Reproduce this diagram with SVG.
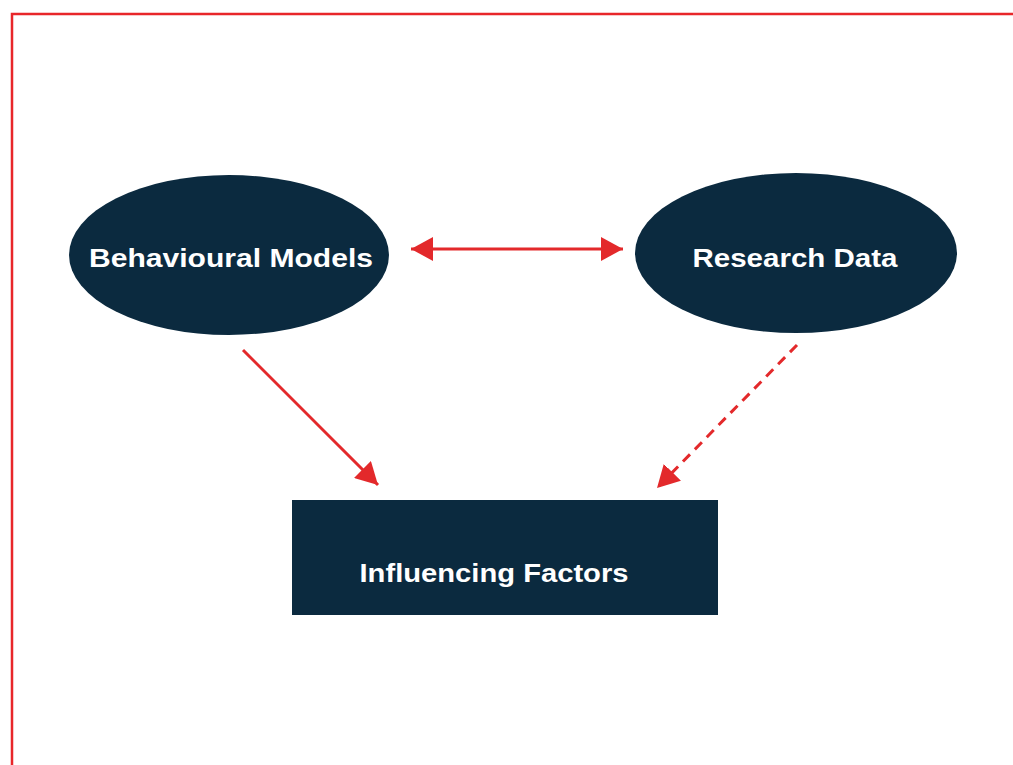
<svg xmlns="http://www.w3.org/2000/svg" width="1013" height="765" viewBox="0 0 1013 765">
<defs>
<style>
.node{fill:#0b2a3f}
.lbl{fill:#ffffff;font-family:"Liberation Sans",Arial,sans-serif;font-weight:bold;font-size:26px;text-anchor:middle}
.con{stroke:#e3292b;stroke-width:3;fill:none}
.dash{stroke-dasharray:10 7}
</style>
<marker id="ah" viewBox="0 0 10 10" refX="10" refY="5" markerWidth="8" markerHeight="8" markerUnits="userSpaceOnUse" orient="auto-start-reverse">
<path d="M0,0 L10,5 L0,10 Z" fill="#e3292b"/>
</marker>
<marker id="ah2" viewBox="0 0 22 24" refX="22" refY="12" markerWidth="22" markerHeight="24" markerUnits="userSpaceOnUse" orient="auto-start-reverse">
<path d="M0,0 L22,12 L0,24 Z" fill="#e3292b"/>
</marker>
</defs>
<rect width="1013" height="765" fill="#ffffff"/>
<path d="M12,765 L12,14 L1013,14" fill="none" stroke="#e8262a" stroke-width="2.5"/>
<g id="connectors">
<line class="con" x1="411" y1="249" x2="623" y2="249" marker-start="url(#ah2)" marker-end="url(#ah2)"/>
<line class="con" x1="243" y1="350" x2="378" y2="485" marker-end="url(#ah2)"/>
<line class="con dash" x1="797" y1="345" x2="657" y2="488" marker-end="url(#ah2)"/>
</g>
<g id="behavioural-models">
<ellipse class="node" cx="229" cy="255" rx="160" ry="80"/>
<text class="lbl" x="231" y="267" textLength="284" lengthAdjust="spacingAndGlyphs">Behavioural Models</text>
</g>
<g id="research-data">
<ellipse class="node" cx="796" cy="253" rx="161" ry="80"/>
<text class="lbl" x="795" y="267" textLength="205" lengthAdjust="spacingAndGlyphs">Research Data</text>
</g>
<g id="influencing-factors">
<rect class="node" x="292" y="500" width="426" height="115"/>
<text class="lbl" x="494" y="582" textLength="269" lengthAdjust="spacingAndGlyphs">Influencing Factors</text>
</g>
</svg>
